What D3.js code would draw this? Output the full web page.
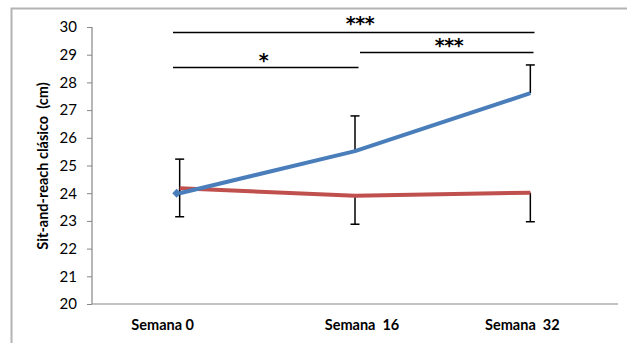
<!DOCTYPE html>
<html><head><meta charset="utf-8">
<script src="https://cdn.jsdelivr.net/npm/d3@7"></script>
<style>body{margin:0;background:#fff}svg{display:block}</style>
</head><body>
<svg id="c" width="627" height="343"></svg>
<script>
const categories = ["Semana 0", "Semana  16", "Semana  32"];
const blueValues = [24.0, 25.52, 27.61];
const blueUpper  = [25.23, 26.79, 28.63];
const redValues  = [24.18, 23.91, 24.02];
const redLower   = [23.15, 22.88, 22.97];
const yTicks = [20,21,22,23,24,25,26,27,28,29,30];
const yTitle = "Sit-and-reach clásico  (cm)";
// significance brackets: [fromIndex, toIndex, label]
const sigFrom = [0, 0, 1];
const sigTo = [2, 1, 2];
const sigLabels = ["***", "*", "***"];

const svg = d3.select("#c");
const x = d3.scaleBand().domain(categories).range([92, 618]).padding(0);
const y = d3.scaleLinear().domain([20, 30]).range([304, 27]);
const cx = c => x(c) + x.bandwidth()/2;

// outer frame (left and top only visible)
svg.append("path").attr("d","M11.5,343 L11.5,8.5 L627,8.5").attr("fill","none").attr("stroke","#b3b3b3").attr("stroke-width",2);

// y axis
const ya = svg.append("g").attr("transform","translate(92,0)")
  .call(d3.axisLeft(y).tickValues(yTicks).tickSize(5).tickPadding(10));
ya.select(".domain").attr("stroke","#868686").attr("d","M0,"+y(30)+"V"+y(20)).attr("stroke-width",1.2);
ya.selectAll(".tick line").attr("stroke","#868686");
ya.selectAll("text").attr("font-family","Lato, 'Open Sans', sans-serif").attr("font-size",15).attr("fill","#000");

// x axis
const xa = svg.append("g").attr("transform","translate(0,"+y(20)+")")
  .call(d3.axisBottom(x).tickSize(0).tickPadding(16));
xa.select(".domain").attr("stroke","#868686").attr("stroke-width",1.2).attr("d","M92,0H618");
const labelShift = [-17, 7, -8];
xa.selectAll("text").attr("font-family","Lato, 'Open Sans', sans-serif").attr("font-weight","bold")
  .attr("font-size",14.5).attr("fill","#000").style("white-space","pre")
  .attr("dx",(d,i)=>labelShift[i]);

// y title
svg.append("text").attr("transform","translate(47.5,166) rotate(-90)")
  .attr("text-anchor","middle").attr("font-family","Lato, 'Open Sans', sans-serif")
  .attr("font-weight","bold").attr("font-size",14.5).style("white-space","pre").text(yTitle);

// error bars
const capW = 4.5;
function errBar(vals, ends){
  categories.forEach((c,i)=>{
    const g = svg.append("g").attr("stroke","#000").attr("stroke-width",1.5);
    g.append("line").attr("x1",cx(c)).attr("x2",cx(c)).attr("y1",y(vals[i])).attr("y2",y(ends[i]));
    g.append("line").attr("x1",cx(c)-capW).attr("x2",cx(c)+capW).attr("y1",y(ends[i])).attr("y2",y(ends[i]));
  });
}
errBar(blueValues, blueUpper);
errBar(redValues, redLower);

const line = d3.line().x((d,i)=>cx(categories[i])).y(d=>y(d));
svg.append("path").datum(redValues).attr("d",line).attr("fill","none").attr("stroke","#c0504d").attr("stroke-width",4).attr("stroke-linejoin","round");
svg.append("path").datum(blueValues).attr("d",line).attr("fill","none").attr("stroke","#4a7ebb").attr("stroke-width",4).attr("stroke-linejoin","round");
// diamond marker at first blue point
svg.append("path").attr("d",d3.symbol(d3.symbolDiamond2, 50)())
  .attr("transform","translate("+(cx(categories[0])-3)+","+y(blueValues[0])+")").attr("fill","#4a7ebb");

// significance brackets
const bracketY = [32.5, 67.5, 52.5];
const starY = [30, 66.5, 52];
const bx1 = [173, 173, 360], bx2 = [534.5, 358.5, 533.5];
const starX = [360, 263.5, 449];
sigLabels.forEach((lab,i)=>{
  svg.append("line").attr("x1",bx1[i]).attr("x2",bx2[i]).attr("y1",bracketY[i]).attr("y2",bracketY[i])
    .attr("stroke","#000").attr("stroke-width",1.5);
  svg.append("text").attr("x",starX[i]).attr("y",starY[i]).attr("text-anchor","middle")
    .attr("font-family","'DejaVu Sans', sans-serif").attr("font-weight","bold").attr("font-size",19)
    .attr("letter-spacing",-0.5).text(lab);
});
</script>
</body></html>
